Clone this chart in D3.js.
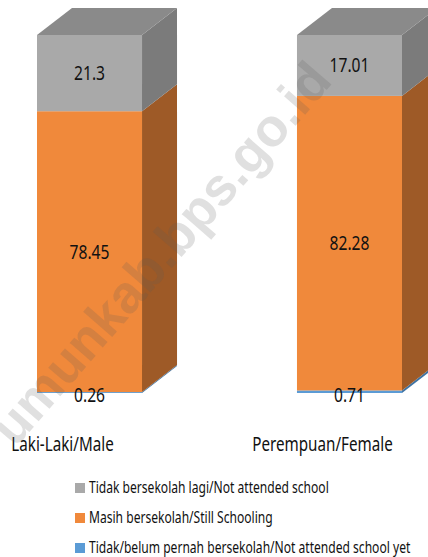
<!DOCTYPE html>
<html>
<head>
<meta charset="utf-8">
<script src="https://cdn.jsdelivr.net/npm/d3@7"></script>
<style>
  body { margin: 0; background: #fff; }
  text { font-family: "Noto Sans", sans-serif; }
</style>
</head>
<body>
<div id="chart"></div>
<script>
const categories = ["Laki-Laki/Male", "Perempuan/Female"];
const seriesNames = [
  "Tidak/belum pernah bersekolah/Not attended school yet",
  "Masih bersekolah/Still Schooling",
  "Tidak bersekolah lagi/Not attended school"
];
const notYet = [0.26, 0.71];
const stillSchool = [78.45, 82.28];
const notAttended = [21.3, 17.01];
const legendOrder = [2, 1, 0];

const W = 428, H = 557;
const depthX = 35, depthY = 27;
const narrow = 0.78; // condensed look

const colors = [
  { front: "#5b9bd5", side: "#3f73a3" },
  { front: "#f0893b", side: "#9e5a27" },
  { front: "#a9a9a9", side: "#7b7b7b" }
];
const topColor = "#8a8a8a";

const svg = d3.select("#chart").append("svg")
  .attr("width", W)
  .attr("height", H);

function label(g, tx, ty, str, size, anchor) {
  return g.append("text")
    .attr("transform", `translate(${tx},${ty}) scale(${narrow},1)`)
    .attr("text-anchor", anchor || "middle")
    .attr("font-size", size)
    .attr("fill", "#111")
    .text(str);
}

const x = d3.scaleBand().domain(categories).range([37, 402]).paddingInner(0.596).paddingOuter(0);
const y = d3.scaleLinear().domain([0, 100]).range([393, 35]);

const rows = categories.map((c, i) => ({ cat: c, vals: [notYet[i], stillSchool[i], notAttended[i]] }));
const stack = d3.stack().keys([0, 1, 2]).value((d, k) => d.vals[k]);
const layers = stack(rows);

layers.forEach((layer, k) => {
  layer.forEach(seg => {
    const x0 = x(seg.data.cat), x1 = x0 + x.bandwidth();
    const yt = y(seg[1]), yb = y(seg[0]);
    // side face
    svg.append("polygon")
      .attr("points", [[x1, yt], [x1 + depthX, yt - depthY], [x1 + depthX, yb - depthY], [x1, yb]].join(" "))
      .attr("fill", colors[k].side);
    // front face
    svg.append("rect")
      .attr("x", x0).attr("y", yt)
      .attr("width", x.bandwidth()).attr("height", Math.max(0, yb - yt))
      .attr("fill", colors[k].front);
  });
});

// top faces
rows.forEach(r => {
  const x0 = x(r.cat), x1 = x0 + x.bandwidth();
  const yt = y(100);
  svg.append("polygon")
    .attr("points", [[x0, yt], [x0 + depthX, yt - depthY], [x1 + depthX, yt - depthY], [x1, yt]].join(" "))
    .attr("fill", topColor);
});

// value labels
layers.forEach(layer => {
  layer.forEach(seg => {
    const k = layer.key;
    const mid = (y(seg[0]) + y(seg[1])) / 2;
    label(svg, x(seg.data.cat) + x.bandwidth() / 2, k === 0 ? 402 : mid + 7, seg.data.vals[k], 20);
  });
});

// category labels
categories.forEach(c => {
  label(svg, x(c) + x.bandwidth() / 2 - 27, 451, c, 19.5);
});

// legend
legendOrder.forEach((k, i) => {
  const ly = 483 + i * 30;
  svg.append("rect")
    .attr("x", 75).attr("y", ly)
    .attr("width", 10).attr("height", 10)
    .attr("fill", colors[k].front);
  label(svg, 89, ly + 10, seriesNames[k], 15.5, "start");
});

// watermark
const wm = svg.append("g")
  .attr("transform", "translate(185,253) rotate(-49)")
  .style("font-family", "'Liberation Sans', sans-serif")
  .attr("font-weight", "bold")
  .attr("font-size", 53)
  .attr("fill", "rgba(90,90,90,0.19)");
const wmText = wm.append("text")
  .attr("text-anchor", "middle")
  .style("font-family", "'Liberation Sans', sans-serif")
  .text("munkab.bps.go.id");
const wmLen = wmText.node().getComputedTextLength();
wm.append("text")
  .attr("x", -wmLen / 2)
  .attr("text-anchor", "end")
  .style("font-family", "'Liberation Sans', sans-serif")
  .text("u");
</script>
</body>
</html>
